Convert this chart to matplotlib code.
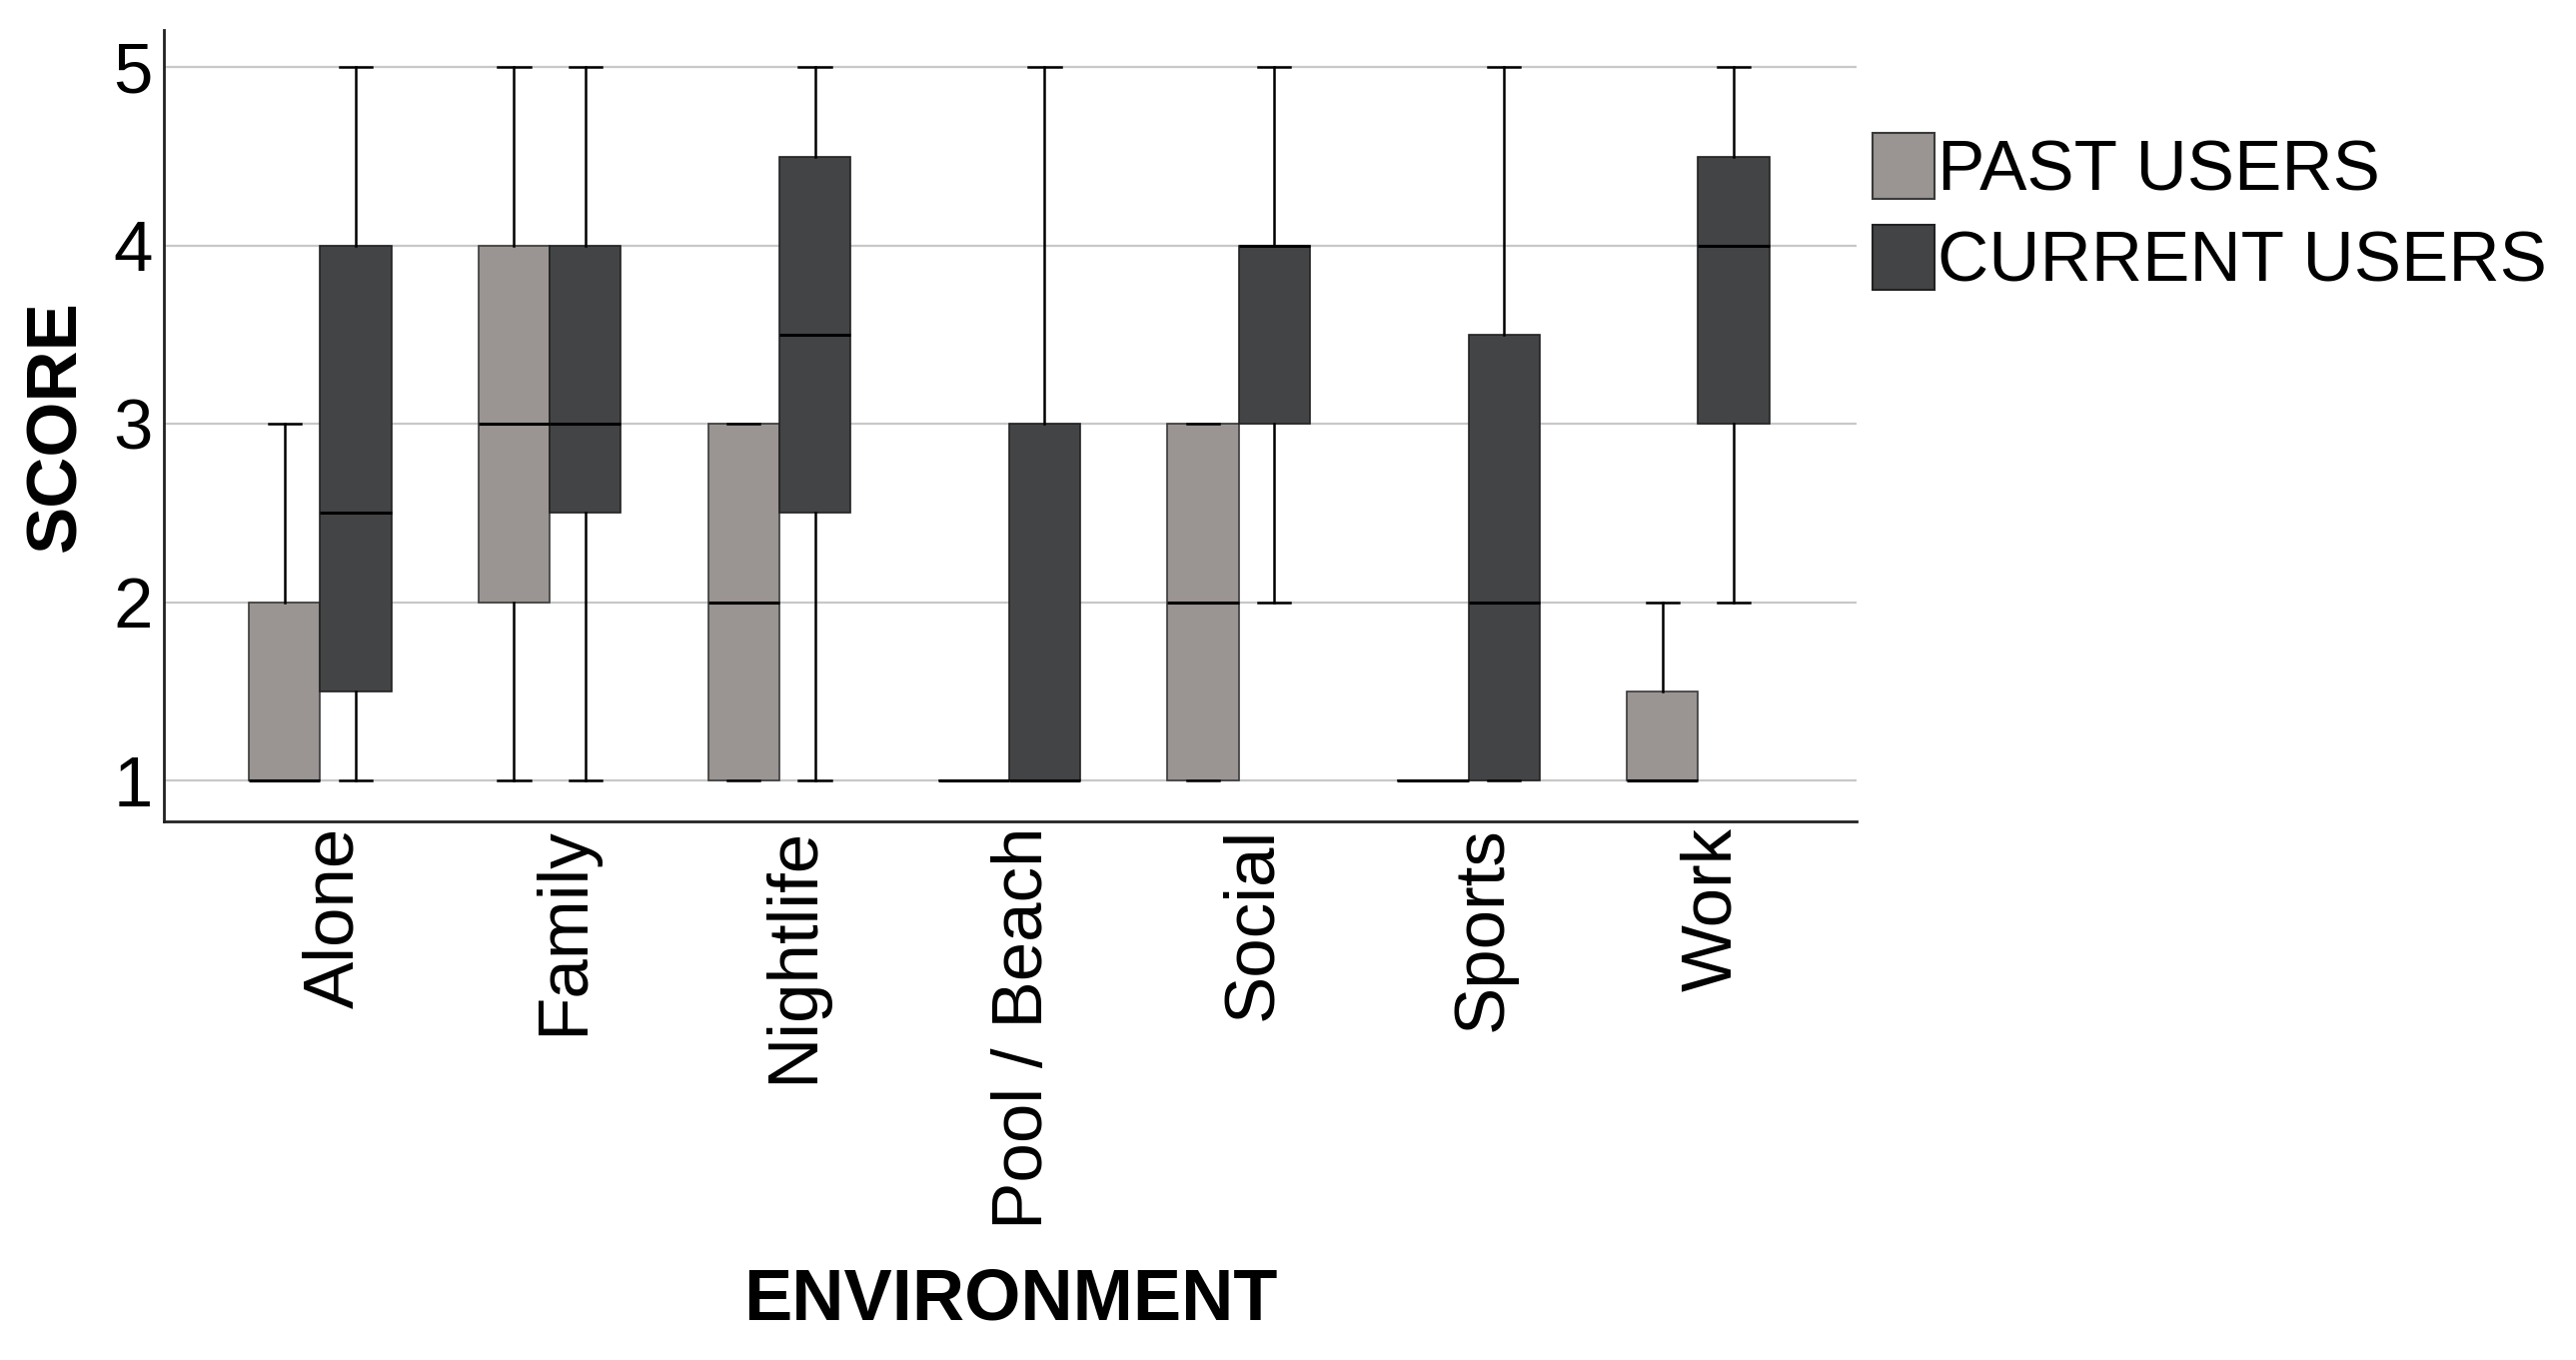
import matplotlib
matplotlib.use("Agg")
import matplotlib.pyplot as plt
import matplotlib.transforms as mtransforms
from matplotlib.patches import Patch

plt.rcParams['font.family'] = ['Liberation Sans', 'DejaVu Sans']

# Datos (mín, Q1, mediana, Q3, máx)
environments = ['Alone', 'Family', 'Nightlife', 'Pool / Beach', 'Social', 'Sports', 'Work']
groups = ['PAST USERS', 'CURRENT USERS']

past_whislo = [1, 1, 1, 1, 1, 1, 1]
past_q1 = [1, 2, 1, 1, 1, 1, 1]
past_med = [1, 3, 2, 1, 2, 1, 1]
past_q3 = [2, 4, 3, 1, 3, 1, 1.5]
past_whishi = [3, 5, 3, 1, 3, 1, 2]

curr_whislo = [1, 1, 1, 1, 2, 1, 2]
curr_q1 = [1.5, 2.5, 2.5, 1, 3, 1, 3]
curr_med = [2.5, 3, 3.5, 1, 4, 2, 4]
curr_q3 = [4, 4, 4.5, 3, 4, 3.5, 4.5]
curr_whishi = [5, 5, 5, 5, 5, 5, 5]

yticks = [1, 2, 3, 4, 5]

past_color = '#9a9493'
curr_color = '#434446'


def make_stats(lo, q1, med, q3, hi):
    return [{'whislo': a, 'q1': b, 'med': c, 'q3': d, 'whishi': e, 'fliers': []}
            for a, b, c, d, e in zip(lo, q1, med, q3, hi)]


past_stats = make_stats(past_whislo, past_q1, past_med, past_q3, past_whishi)
curr_stats = make_stats(curr_whislo, curr_q1, curr_med, curr_q3, curr_whishi)

fig = plt.figure(figsize=(25.78, 13.61), dpi=100)
ax = fig.add_axes([0.0636, 0.396, 0.6571, 0.582])

w = 0.31
pos = list(range(len(environments)))
common = dict(widths=w, patch_artist=True, showfliers=False, capwidths=0.14,
              whiskerprops=dict(color='black', linewidth=1.8),
              capprops=dict(color='black', linewidth=1.8),
              medianprops=dict(color='black', linewidth=2.2))

ax.bxp(past_stats, positions=[p - w / 2 for p in pos],
       boxprops=dict(facecolor=past_color, edgecolor='#3a3a3a', linewidth=1.2), **common)
ax.bxp(curr_stats, positions=[p + w / 2 for p in pos],
       boxprops=dict(facecolor=curr_color, edgecolor='#222222', linewidth=1.2), **common)

ax.set_xlim(-0.68, 6.69)
ax.set_ylim(0.77, 5.21)
ax.set_xticks(pos)
ax.set_xticklabels(environments, rotation=90, fontsize=51)
ax.set_yticks(yticks)
ax.set_yticklabels([str(t) for t in yticks], fontsize=51)
ax.tick_params(axis='both', length=0)
ax.tick_params(axis='y', pad=8)
ax.tick_params(axis='x', pad=4)

# desplazar un poco las etiquetas rotadas hacia la derecha
shift = mtransforms.ScaledTranslation(0.15, 0, fig.dpi_scale_trans)
for lbl in ax.get_xticklabels():
    lbl.set_transform(lbl.get_transform() + shift)

ax.yaxis.grid(True, color='#c8c8c8', linewidth=1.6)
ax.set_axisbelow(True)

for s in ['top', 'right']:
    ax.spines[s].set_visible(False)
for s in ['left', 'bottom']:
    ax.spines[s].set_linewidth(2)
    ax.spines[s].set_color('#222222')

ax.set_ylabel('SCORE', fontsize=51, fontweight='bold')
ax.yaxis.set_label_coords(-0.0435, 0.5)
ax.set_xlabel('ENVIRONMENT', fontsize=52, fontweight='bold')
ax.xaxis.set_label_coords(0.5, -0.563)
ax.xaxis.label.set_va('top')

handles = [Patch(facecolor=past_color, edgecolor='#3a3a3a', linewidth=1.5),
           Patch(facecolor=curr_color, edgecolor='#222222', linewidth=1.5)]
fig.legend(handles, groups, loc='upper left', bbox_to_anchor=(0.727, 0.902),
           frameon=False, fontsize=51, handlelength=0.87, handleheight=1.04,
           handletextpad=0.05, borderpad=0, borderaxespad=0, labelspacing=0.28)

fig.savefig('out.png', dpi=100)
